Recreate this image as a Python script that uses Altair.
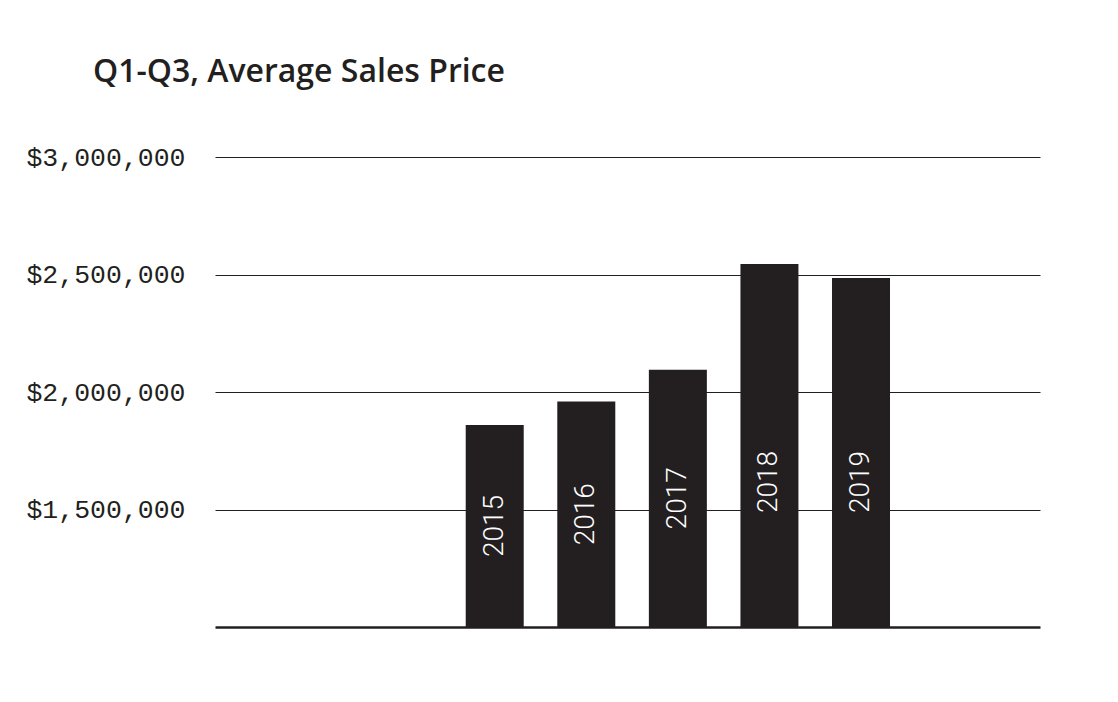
import altair as alt
import pandas as pd

years = [2015, 2016, 2017, 2018, 2019]
prices = [1860000, 1960000, 2095000, 2545000, 2485000]
y_ticks = [1500000, 2000000, 2500000, 3000000]

df = pd.DataFrame({"year": years, "price": prices})

base = alt.Chart(df).encode(
    x=alt.X("year:Q", scale=alt.Scale(domain=[2012, 2020.9], nice=False, zero=False),
            axis=alt.Axis(title=None, labels=False, ticks=False, grid=False,
                          domain=True, domainColor="#231f20", domainWidth=2.5))
)

bars = base.mark_bar(width=58, color="#231f20").encode(
    y=alt.Y("price:Q",
            scale=alt.Scale(domain=[1000000, 3000000], nice=False, zero=False),
            axis=alt.Axis(title=None, values=y_ticks, format="$,.0f", ticks=False,
                          domain=False, grid=True, gridColor="#231f20", gridWidth=1,
                          gridOpacity=1, labelFont="Liberation Mono", labelFontSize=26.5,
                          labelColor="#231f20", labelPadding=30)),
    y2=alt.datum(1000000),
)

labels = base.transform_calculate(
    mid="min((datum.price + 1000000) / 2, 1617000)",
    label="toString(datum.year)",
).mark_text(angle=270, align="center", baseline="middle", color="white",
            font="Roboto", fontSize=28, fontWeight=300).encode(
    y=alt.Y("mid:Q"),
    text="label:N",
)

chart = (bars + labels).properties(
    width=825, height=470,
    padding={"left": 17, "top": 48, "right": 20, "bottom": 20},
    title=alt.TitleParams("Q1-Q3, Average Sales Price", anchor="start", frame="bounds",
                          font="Open Sans", fontSize=32, fontWeight=600,
                          color="#231f20", dx=67, offset=55),
).configure_view(stroke=None)

chart.save("out.html", embed_options={"renderer": "svg", "actions": False})
